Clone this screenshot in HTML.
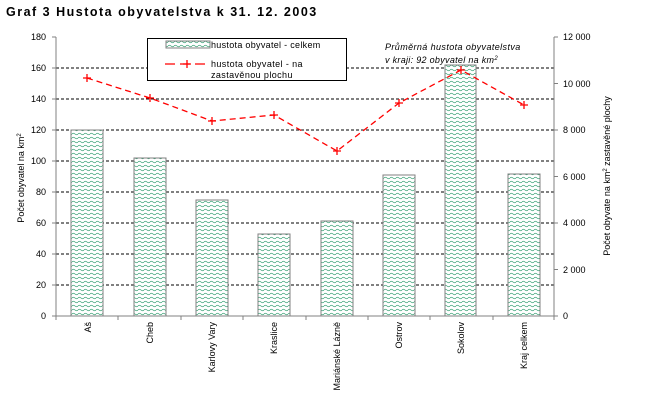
<!DOCTYPE html>
<html><head><meta charset="utf-8"><style>
body{margin:0;background:#fff;}
svg text{font-family:"Liberation Sans",sans-serif;font-size:9px;fill:#000;}
</style></head><body>
<svg width="661" height="408" xmlns="http://www.w3.org/2000/svg">
<defs>
<pattern id="w" width="6" height="4" patternUnits="userSpaceOnUse">
<rect width="6" height="4" fill="#fff"/>
<path d="M0 2 Q1.5 0.5 3 2 T6 2" stroke="#3aa276" stroke-width="0.7" fill="none"/>
</pattern>
</defs>
<text x="6" y="16" style="font-size:12.5px;font-weight:bold;letter-spacing:1.5px">Graf 3  Hustota obyvatelstva k 31. 12. 2003</text>
<g stroke="#000" stroke-dasharray="3,2" stroke-width="1">
<line x1="56" x2="554" y1="68" y2="68"/><line x1="56" x2="554" y1="99" y2="99"/>
<line x1="56" x2="554" y1="130" y2="130"/><line x1="56" x2="554" y1="161" y2="161"/>
<line x1="56" x2="554" y1="192" y2="192"/><line x1="56" x2="554" y1="223" y2="223"/>
<line x1="56" x2="554" y1="254" y2="254"/><line x1="56" x2="554" y1="285" y2="285"/>
</g>
<g stroke="#808080" fill="url(#w)">
<rect x="71" y="130" width="32" height="186"/>
<rect x="134" y="158" width="32" height="158"/>
<rect x="196" y="200" width="32" height="116"/>
<rect x="258" y="234" width="32" height="82"/>
<rect x="321" y="221" width="32" height="95"/>
<rect x="383" y="175" width="32" height="141"/>
<rect x="445" y="65" width="31" height="251"/>
<rect x="508" y="174" width="32" height="142"/>
</g>
<g stroke="#808080" fill="none">
<line x1="56" y1="37" x2="56" y2="316"/><line x1="554" y1="37" x2="554" y2="316"/>
<line x1="56" y1="316" x2="554" y2="316"/>
<path d="M52 37h4M52 68h4M52 99h4M52 130h4M52 161h4M52 192h4M52 223h4M52 254h4M52 285h4M52 316h4"/>
<path d="M554 37h4M554 83.5h4M554 130h4M554 176.5h4M554 223h4M554 269.5h4M554 316h4"/>
<path d="M56 316v4M118 316v4M181 316v4M243 316v4M306 316v4M368 316v4M430 316v4M493 316v4M554 316v4"/>
</g>
<g text-anchor="end">
<text x="46" y="40">180</text><text x="46" y="71">160</text><text x="46" y="102">140</text>
<text x="46" y="133">120</text><text x="46" y="164">100</text><text x="46" y="195">80</text>
<text x="46" y="226">60</text><text x="46" y="257">40</text><text x="46" y="288">20</text><text x="46" y="319">0</text>
</g>
<g>
<text x="563" y="40">12 000</text><text x="563" y="87">10 000</text><text x="563" y="133">8 000</text>
<text x="563" y="180">6 000</text><text x="563" y="226">4 000</text><text x="563" y="273">2 000</text><text x="563" y="319">0</text>
</g>
<text transform="translate(24,178) rotate(-90)" text-anchor="middle">Počet obyvatel na km<tspan dy="-3" style="font-size:6px">2</tspan></text>
<text transform="translate(610,176) rotate(-90)" text-anchor="middle">Počet obyvate na km<tspan dy="-3" style="font-size:6px">2</tspan><tspan dy="3"> zastavěné plochy</tspan></text>
<g text-anchor="end">
<text transform="translate(91,322) rotate(-90)">Aš</text>
<text transform="translate(153,322) rotate(-90)">Cheb</text>
<text transform="translate(215,322) rotate(-90)">Karlovy Vary</text>
<text transform="translate(277,322) rotate(-90)">Kraslice</text>
<text transform="translate(340,322) rotate(-90)">Mariánské Lázně</text>
<text transform="translate(402,322) rotate(-90)">Ostrov</text>
<text transform="translate(464,322) rotate(-90)">Sokolov</text>
<text transform="translate(527,322) rotate(-90)">Kraj celkem</text>
</g>
<polyline points="87,78 150,98 212,121 274,115 337,151 399,103 461,70 524,105" fill="none" stroke="#f00" stroke-width="1.3" stroke-dasharray="6,4"/>
<g stroke="#f00" stroke-width="1.3">
<path d="M83 78h8M87 74v8M146 98h8M150 94v8M208 121h8M212 117v8M270 115h8M274 111v8M333 151h8M337 147v8M395 103h8M399 99v8M457 70h8M461 66v8M520 105h8M524 101v8"/>
</g>
<rect x="147.5" y="38.5" width="199" height="42" fill="#fff" stroke="#000"/>
<rect x="166" y="41" width="44" height="7" fill="url(#w)" stroke="#808080"/>
<text x="211" y="48" style="letter-spacing:0.3px">hustota obyvatel - celkem</text>
<line x1="165" y1="64" x2="209" y2="64" stroke="#f00" stroke-width="1.3" stroke-dasharray="10,5"/>
<path d="M183 64h8M187 60v8" stroke="#f00" stroke-width="1.3"/>
<text x="211" y="67" style="letter-spacing:0.4px">hustota obyvatel - na</text>
<text x="211" y="78" style="letter-spacing:0.4px">zastavěnou plochu</text>
<text x="385" y="50" style="font-style:italic;letter-spacing:0.4px">Průměrná hustota obyvatelstva</text>
<text x="385" y="63" style="font-style:italic;letter-spacing:0.3px">v kraji: 92 obyvatel na km<tspan dy="-3" style="font-size:6px">2</tspan></text>
</svg>
</body></html>
